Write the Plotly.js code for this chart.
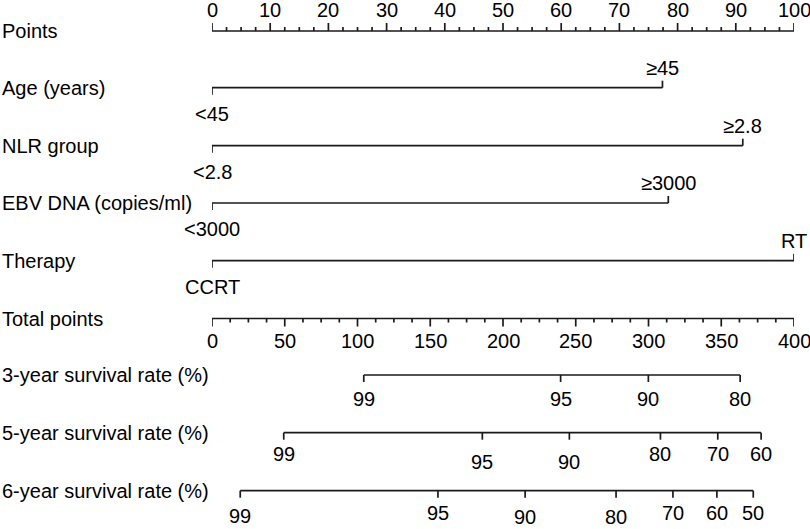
<!DOCTYPE html>
<html>
<head>
<meta charset="utf-8">
<script src="https://cdn.plot.ly/plotly-3.0.1.min.js"></script>
<style>html,body{margin:0;padding:0;background:#fff;}#chart{width:810px;height:529px;}</style>
</head>
<body>
<div id="chart"></div>
<script>
// ---------- data ----------
const rowNames = ['Points','Age (years)','NLR group','EBV DNA (copies/ml)','Therapy','Total points',
  '3-year survival rate (%)','5-year survival rate (%)','6-year survival rate (%)'];

const pointsTicks = [0,10,20,30,40,50,60,70,80,90,100];

const ageLabels = ['<45','≥45'];
const agePoints = [0, 77.4];
const nlrLabels = ['<2.8','≥2.8'];
const nlrPoints = [0, 91.2];
const ebvLabels = ['<3000','≥3000'];
const ebvPoints = [0, 78.4];
const therapyLabels = ['CCRT','RT'];
const therapyPoints = [0, 100];

const totalTicks = [0,50,100,150,200,250,300,350,400];

const surv3Labels = ['99','95','90','80'];
const surv3Total  = [104.3, 239.6, 299.9, 363.0];
const surv5Labels = ['99','95','90','80','70','60'];
const surv5Total  = [49.3, 185.8, 245.6, 308.2, 347.6, 377.4];
const surv6Labels = ['99','95','90','80','70','60','50'];
const surv6Total  = [19.4, 155.3, 215.2, 277.7, 316.8, 347.0, 372.0];

// ---------- layout constants (pixel rows) ----------
const rowY = [31, 87.7, 145.7, 203, 260.7, 318.5, 375, 432.7, 490.7];
const LINE = '#1a1a1a';
const FONT = {family:'"Liberation Sans", Arial, sans-serif', size:20, color:'#000'};
const totalScale = 100/400; // total points -> points axis units

const traces = [];
const annotations = [];

function addLine(xs, ys){
  traces.push({type:'scatter', mode:'lines', x:xs, y:ys, hoverinfo:'skip',
    line:{color:LINE, width:1.7}, showlegend:false, cliponaxis:false});
}
function ticks(xs, y, len){
  const X=[], Y=[];
  xs.forEach(x=>{X.push(x,x,null); Y.push(y,y+len,null);});
  addLine(X,Y);
}
function label(x, y, text, opts){
  annotations.push(Object.assign({x:x, y:y, xref:'x', yref:'y', text:text, showarrow:false,
    font:FONT, xanchor:'center', yanchor:'middle'}, opts||{}));
}

// row titles
rowNames.forEach((n,i)=>{
  annotations.push({xref:'paper', yref:'y', x:(0-212)/582, y:rowY[i], text:n, showarrow:false,
    font:FONT, xanchor:'left', yanchor:'middle'});
});

// Points axis
(function(){
  const y=rowY[0];
  addLine([pointsTicks[0], pointsTicks[pointsTicks.length-1]],[y,y]);
  ticks(pointsTicks, y, -8);
  const minor=[];
  for(let i=0;i<pointsTicks.length-1;i++){
    const a=pointsTicks[i], b=pointsTicks[i+1];
    for(let k=1;k<4;k++) minor.push(a+(b-a)*k/4);
  }
  ticks(minor, y, -4);
  pointsTicks.forEach(t=>label(t, 9.5, String(t)));
})();

// categorical rows
[[ageLabels,agePoints],[nlrLabels,nlrPoints],[ebvLabels,ebvPoints],[therapyLabels,therapyPoints]]
.forEach((row,i)=>{
  const y=rowY[i+1], labs=row[0], pts=row[1];
  addLine([pts[0],pts[1]],[y,y]);
  ticks([pts[0]], y, 7);
  ticks([pts[1]], y, -7);
  label(pts[0], y+26, labs[0]);
  label(pts[1], y-20, labs[1]);
});

// Total points axis
(function(){
  const y=rowY[5];
  const xs=totalTicks.map(t=>t*totalScale);
  addLine([xs[0], xs[xs.length-1]],[y,y]);
  ticks(xs, y, 8);
  const minor=[];
  for(let i=0;i<totalTicks.length-1;i++){
    const a=totalTicks[i], b=totalTicks[i+1];
    for(let k=1;k<4;k++) minor.push((a+(b-a)*k/4)*totalScale);
  }
  ticks(minor, y, 4);
  totalTicks.forEach(t=>label(t*totalScale, y+22, String(t)));
})();

// survival rows
const survRows = [
  [surv3Labels, surv3Total, [0,0,0,0]],
  [surv5Labels, surv5Total, [-3,5,5,-3,-3,-3]],
  [surv6Labels, surv6Total, [1.5,-1.5,2,2,-1.5,-1.5,-1.5]]
];
survRows.forEach((row,i)=>{
  const y=rowY[6+i], labs=row[0], xs=row[1].map(t=>t*totalScale), dy=row[2];
  addLine([xs[0], xs[xs.length-1]],[y,y]);
  ticks(xs, y, 7);
  xs.forEach((x,j)=>label(x, y+24+dy[j], labs[j]));
});

const layout = {
  width:810, height:529,
  margin:{l:212, r:16, t:0, b:0, pad:0},
  paper_bgcolor:'#fff', plot_bgcolor:'#fff',
  xaxis:{range:[0,100], visible:false, fixedrange:true},
  yaxis:{range:[529,0], visible:false, fixedrange:true},
  annotations:annotations,
  showlegend:false
};
Plotly.newPlot('chart', traces, layout, {staticPlot:true, displayModeBar:false});
</script>
</body>
</html>
